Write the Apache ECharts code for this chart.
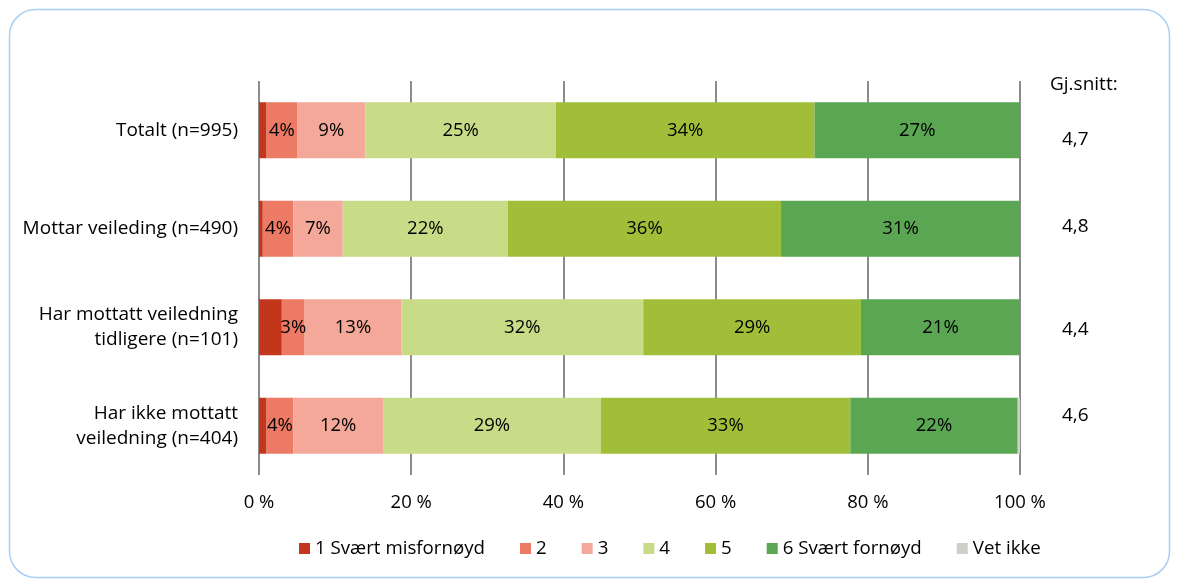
<!DOCTYPE html>
<html>
<head>
<meta charset="utf-8">
<script src="https://cdn.jsdelivr.net/npm/echarts@6/dist/echarts.min.js"></script>
<style>
  html, body { margin: 0; padding: 0; background: #fff; }
  #main { width: 1178px; height: 584px; }
</style>
</head>
<body>
<div id="main"></div>
<script>
// kategorier, ovenfra og ned
var kategorier = [
    'Totalt (n=995)',
    'Mottar veileding (n=490)',
    'Har mottatt veiledning\ntidligere (n=101)',
    'Har ikke mottatt\nveiledning (n=404)'
];
var serieNavn = ['1 Svært misfornøyd', '2', '3', '4', '5', '6 Svært fornøyd', 'Vet ikke'];
var farger = ['#c4361b', '#ec7a64', '#f3a89a', '#c8dc87', '#a1be38', '#5ba653', '#cfcfc8'];

// andel i prosent per serie (samme rekkefølge som kategorier)
var s1 = [1, 0.5, 3, 1];
var s2 = [4, 4, 3, 3.5];
var s3 = [9, 6.5, 12.7, 11.8];
var s4 = [25, 21.7, 31.8, 28.6];
var s5 = [34, 35.9, 28.6, 32.8];
var s6 = [27, 31.4, 20.9, 22];
var vetIkke = [0, 0, 0, 0.3];
var verdier = [s1, s2, s3, s4, s5, s6, vetIkke];

var gjSnitt = ['4,7', '4,8', '4,4', '4,6'];
var gjSnittY = [140, 227, 330, 416];

var fontFam = '"Open Sans", "Noto Sans", sans-serif';

var myChart = echarts.init(document.getElementById('main'));

var series = serieNavn.map(function (navn, i) {
    var visLabel = i >= 1 && i <= 5;
    return {
        name: navn,
        type: 'bar',
        stack: 'total',
        barWidth: 56,
        data: verdier[i],
        itemStyle: { color: farger[i] },
        label: {
            show: visLabel,
            position: 'inside',
            color: '#000',
            fontSize: 18.5,
            fontFamily: fontFam,
            formatter: function (p) {
                return p.value > 0 ? Math.round(p.value) + '%' : '';
            }
        },
        emphasis: { disabled: true }
    };
});

var graphic = [{
    type: 'rect',
    shape: { x: 9.5, y: 9.5, width: 1160, height: 568, r: 26 },
    style: { fill: 'none', stroke: '#a9cff3', lineWidth: 1.5 },
    silent: true
}, {
    type: 'text',
    x: 1050,
    y: 85,
    style: { text: 'Gj.snitt:', fontSize: 19, fontFamily: fontFam, fill: '#000', verticalAlign: 'middle' }
}];
gjSnitt.forEach(function (v, i) {
    graphic.push({
        type: 'text',
        x: 1062,
        y: gjSnittY[i],
        style: { text: v, fontSize: 19, fontFamily: fontFam, fill: '#000', verticalAlign: 'middle' }
    });
});

option = {
    animation: false,
    textStyle: { fontFamily: fontFam },
    grid: { left: 259, right: 158, top: 81, bottom: 109, containLabel: false },
    xAxis: {
        type: 'value',
        min: 0,
        max: 100,
        interval: 20,
        axisLine: { show: false },
        axisTick: { show: false },
        axisLabel: {
            formatter: '{value} %',
            color: '#000',
            fontSize: 18.5,
            fontFamily: fontFam,
            margin: 18
        },
        splitLine: { show: true, lineStyle: { color: '#8c8c8c', width: 2 } }
    },
    yAxis: {
        type: 'category',
        data: kategorier,
        inverse: true,
        axisLine: { show: false },
        axisTick: { show: false },
        axisLabel: {
            color: '#000',
            fontSize: 19,
            fontFamily: fontFam,
            lineHeight: 25,
            margin: 21,
            align: 'right'
        }
    },
    legend: {
        data: serieNavn,
        left: 294,
        top: 534,
        itemWidth: 11,
        itemHeight: 11,
        itemGap: 35,
        icon: 'rect',
        textStyle: { color: '#000', fontSize: 18.7, fontFamily: fontFam },
        selectedMode: false
    },
    graphic: graphic,
    series: series
};

myChart.setOption(option);
</script>
</body>
</html>
